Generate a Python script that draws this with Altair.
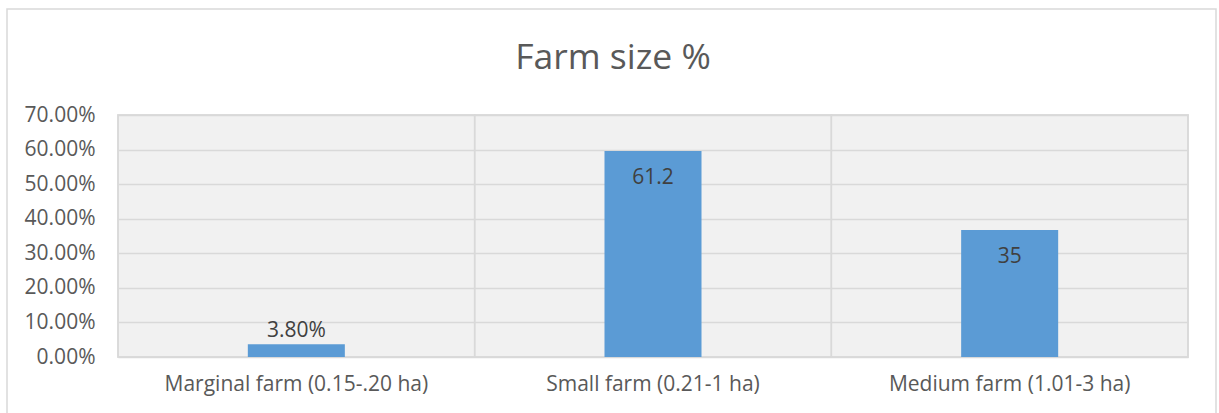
import altair as alt
import pandas as pd

# ---- data ----
categories = ["Marginal farm (0.15-.20 ha)", "Small farm (0.21-1 ha)", "Medium farm (1.01-3 ha)"]
values = [0.037, 0.596, 0.367]          # bar heights as drawn
labels = ["3.80%", "61.2", "35"]        # data labels as printed
placement = ["outside", "inside", "inside"]
y_ticks = [0.0, 0.1, 0.2, 0.3, 0.4, 0.5, 0.6, 0.7]
title_text = "Farm size %"

df = pd.DataFrame({"category": categories, "value": values,
                   "label": labels, "placement": placement})

FONT = "Open Sans"
GRAY = "#595959"
GRID = "#d9d9d9"
W, H = 1070, 242
FS = 21

xenc = alt.X("category:N", sort=categories, title=None,
             scale=alt.Scale(paddingInner=0, paddingOuter=0),
             axis=alt.Axis(labelAngle=0, ticks=False, domain=False, grid=False,
                           labelFontSize=FS, labelColor=GRAY, labelFont=FONT,
                           labelPadding=16, labelLimit=0))
yenc = alt.Y("value:Q", title=None,
             scale=alt.Scale(domain=[0, 0.7], nice=False),
             axis=alt.Axis(values=y_ticks, format=".2%", ticks=False, domain=False,
                           gridColor=GRID, gridWidth=1.5, labelFontSize=FS,
                           labelColor=GRAY, labelFont=FONT, labelPadding=23,
                           labelOverlap=False))

base = alt.Chart(df)

frame = alt.Chart(pd.DataFrame({"f": [0]})).mark_rect(
    fillOpacity=0, stroke=GRID, strokeWidth=1.5
).encode(x=alt.value(-111), x2=alt.value(1098), y=alt.value(-106), y2=alt.value(330))

title = alt.Chart(pd.DataFrame({"t": [title_text]})).mark_text(
    fontSize=35.5, font=FONT, color=GRAY, baseline="middle", align="center"
).encode(text="t:N", x=alt.value(495), y=alt.value(-57))

# category cells: their borders give the vertical gridlines
cells = base.mark_rect(fillOpacity=0, stroke=GRID, strokeWidth=1.5).encode(x=xenc)

bars = base.mark_bar(color="#5B9BD5", width=alt.RelativeBandSize(0.272)).encode(
    x=xenc, y=yenc
)

txt_out = base.transform_filter(alt.datum.placement == "outside").mark_text(
    fontSize=FS, font=FONT, color="#404040", baseline="middle", dy=-13
).encode(x=xenc, y=yenc, text="label:N")

txt_in = base.transform_filter(alt.datum.placement == "inside").mark_text(
    fontSize=FS, font=FONT, color="#404040", baseline="middle", dy=27
).encode(x=xenc, y=yenc, text="label:N")

chart = alt.layer(cells, bars, txt_out, txt_in, frame, title).properties(
    width=W, height=H,
    autosize=alt.AutoSizeParams(type="none"),
    padding={"left": 118, "top": 115, "right": 31, "bottom": 56},
    background="white",
).configure_view(fill="#f1f1f1", stroke=GRID, strokeWidth=1.5)

chart.save("out.html", embed_options={"renderer": "svg", "actions": False})
